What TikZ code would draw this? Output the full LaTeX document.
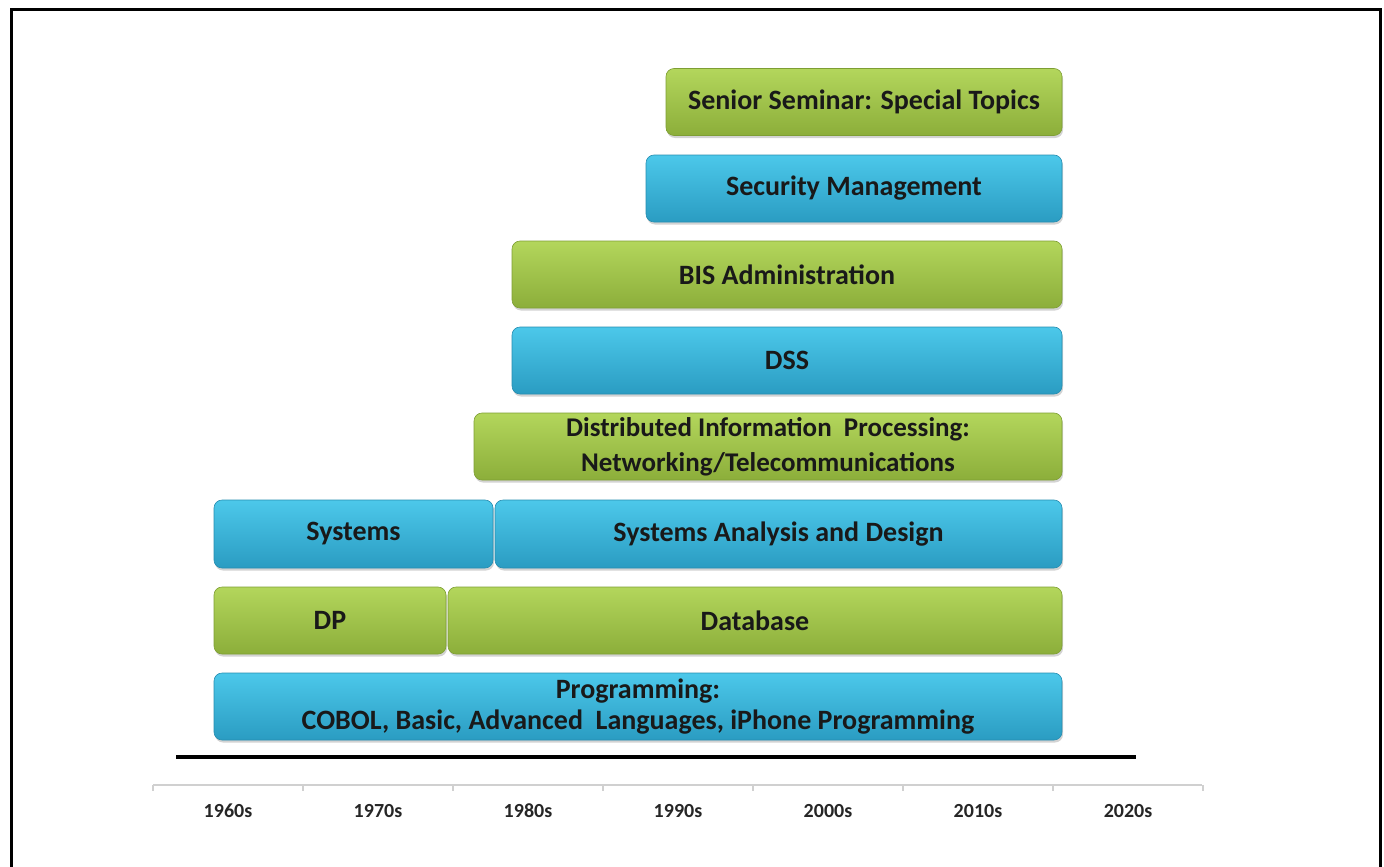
\documentclass[tikz,border=0pt]{standalone}
\usepackage{fontspec}
\setmainfont{Carlito}
\usetikzlibrary{shadows}
\definecolor{gtop}{HTML}{B3D65C}
\definecolor{gbot}{HTML}{8CAE3A}
\definecolor{gedge}{HTML}{7E9E34}
\definecolor{btop}{HTML}{4CC8EA}
\definecolor{bbot}{HTML}{2A9CC2}
\definecolor{bedge}{HTML}{268DB0}
\definecolor{axisgray}{HTML}{D0D0D0}
\tikzset{
  bar/.style={rounded corners=8pt, inner sep=0pt, align=center,
    font=\fontsize{28}{35}\selectfont\bfseries, text=black!90,
    minimum height=67pt,
    drop shadow={opacity=0.35, shadow xshift=1pt, shadow yshift=-2.5pt}},
  gbar/.style={bar, draw=gedge, line width=0.6pt, top color=gtop, bottom color=gbot},
  bbar/.style={bar, draw=bedge, line width=0.6pt, top color=btop, bottom color=bbot},
  yearlbl/.style={font=\fontsize{20}{24}\selectfont\bfseries, text=black!85, inner sep=0pt}
}
\begin{document}
\begin{tikzpicture}[x=1pt,y=-1pt]
\useasboundingbox (0,0) rectangle (1384,867);
% frame
\draw[line width=3pt] (11,870) -- (11,10) -- (1380,10) -- (1380,870);
% bars
\node[gbar, minimum width=396pt] (sem) at (864,102) {Senior Seminar: Special Topics};
\node[bbar, minimum width=416pt] (sec) at (854,188.5) {Security Management};
\node[gbar, minimum width=550pt] (bis) at (787,274.5) {BIS Administration};
\node[bbar, minimum width=550pt] (dss) at (787,360.5) {DSS};
\node[gbar, minimum width=588pt, font=\fontsize{27}{35}\selectfont\bfseries] (dist) at (768,446.5) {Distributed Information\ \ Processing:\\Networking/Telecommunications};
\node[bbar, minimum width=279pt, minimum height=68pt] (sys) at (353.5,534) {Systems};
\node[bbar, minimum width=567pt, minimum height=68pt] (sad) at (778.5,534) {Systems Analysis and Design};
\node[gbar, minimum width=232pt] (dp) at (330,620.5) {DP};
\node[gbar, minimum width=614pt] (db) at (755,620.5) {Database};
\node[bbar, minimum width=848pt, font=\fontsize{28}{31}\selectfont\bfseries] (prog) at (638,706.5) {Programming:\\COBOL, Basic, Advanced\ \ Languages, iPhone Programming};
% baseline
\draw[line width=4pt] (176,757) -- (1136,757);
% axis
\draw[axisgray, line width=1.5pt] (153,785) -- (1202,785);
\foreach \i in {0,...,7} {
  \draw[axisgray, line width=1.5pt] ({153+150*\i},785) -- ({153+150*\i},791);
}
\foreach \y [count=\i from 0] in {1960s,1970s,1980s,1990s,2000s,2010s,2020s} {
  \node[yearlbl] (yr\i) at ({228+150*\i},811) {\y};
}
\end{tikzpicture}
\end{document}
